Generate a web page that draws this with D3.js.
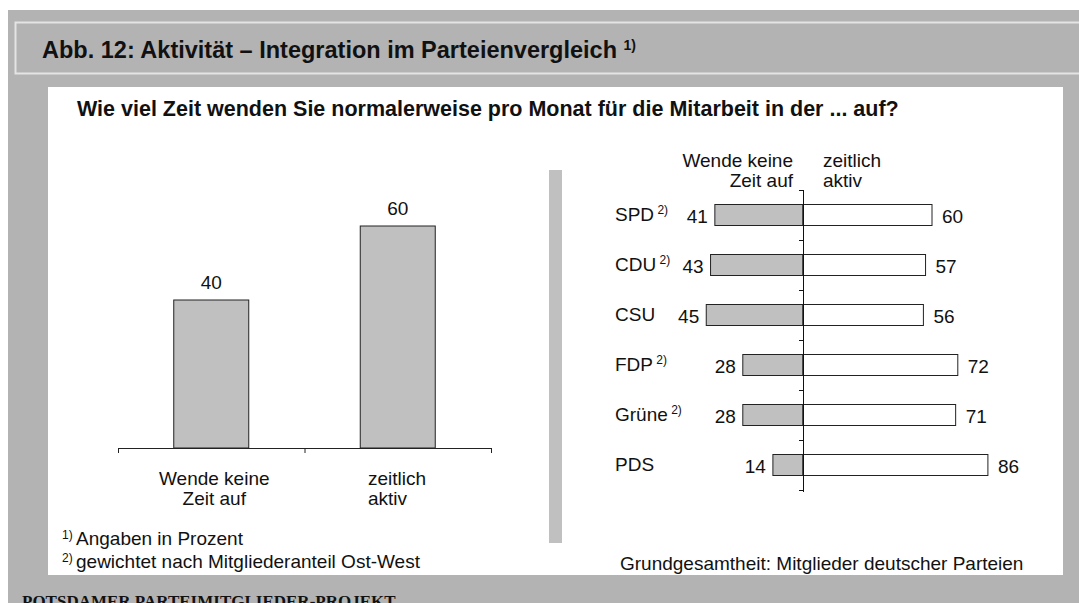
<!DOCTYPE html>
<html>
<head>
<meta charset="utf-8">
<script src="https://cdn.jsdelivr.net/npm/d3@7"></script>
<style>
  body { margin: 0; background: #fff; }
  svg { display: block; font-family: "Liberation Sans", Arial, sans-serif; }
</style>
</head>
<body>
<div id="chart"></div>
<script>
// overall question: share of members (percent)
var overallCats = ["keine", "aktiv"];
var overallLines = [["Wende keine", "Zeit auf"], ["zeitlich", "aktiv"]];
var overallValues = [40, 60];

// party comparison
var parties = ["SPD", "CDU", "CSU", "FDP", "Grüne", "PDS"];
var partyNote = ["2)", "2)", "", "2)", "2)", ""];
var keineZeit = [41, 43, 45, 28, 28, 14];
var zeitAktiv = [60, 57, 56, 72, 71, 86];

var W = 1079, H = 603;
var svg = d3.select("#chart").append("svg")
	.attr("width", W)
	.attr("height", H)

// frame
svg.append("rect").attr("x", 8).attr("y", 10).attr("width", W - 8).attr("height", H - 10).attr("fill", "#b3b3b3")
svg.append("rect").attr("x", 15.5).attr("y", 22.5).attr("width", W + 20).attr("height", 51)
	.attr("fill", "#b3b3b3").attr("stroke", "#e4e4e4").attr("stroke-width", 2)
svg.append("rect").attr("x", 48).attr("y", 87).attr("width", 1015).attr("height", 488).attr("fill", "#fff")
svg.append("rect").attr("x", 549).attr("y", 170).attr("width", 13).attr("height", 373).attr("fill", "#c0c0c0")

var title = svg.append("text")
	.attr("x", 42).attr("y", 58)
	.attr("font-size", 23.5).attr("font-weight", "bold").attr("fill", "#111")
title.append("tspan").text("Abb. 12: Aktivität – Integration im Parteienvergleich ")
title.append("tspan").attr("font-size", 14).attr("dy", -8).text("1)")

svg.append("text")
	.attr("x", 77).attr("y", 116)
	.attr("font-size", 21.5).attr("font-weight", "bold").attr("fill", "#111")
	.text("Wie viel Zeit wenden Sie normalerweise pro Monat für die Mitarbeit in der ... auf?")

// ---- left chart ----
var x1 = d3.scaleBand().domain(overallCats).range([118, 491]).padding(0)
var y1 = d3.scaleLinear().domain([0, 80]).range([448, 152])
var bw1 = 75

var left = svg.append("g")

left.selectAll("rect.bar")
	.data(overallValues)
	.enter()
		.append("rect")
		.attr("class", "bar")
		.attr("x", function(d, i) { return x1(overallCats[i]) + x1.bandwidth() / 2 - bw1 / 2; })
		.attr("y", function(d) { return y1(d); })
		.attr("width", bw1)
		.attr("height", function(d) { return y1(0) - y1(d); })
		.attr("fill", "#c0c0c0")
		.attr("stroke", "#222")
		.attr("stroke-width", 1)

left.selectAll("text.val")
	.data(overallValues)
	.enter()
		.append("text")
		.attr("class", "val")
		.attr("x", function(d, i) { return x1(overallCats[i]) + x1.bandwidth() / 2; })
		.attr("y", function(d) { return y1(d) - 11; })
		.attr("text-anchor", "middle")
		.attr("font-size", 19)
		.attr("fill", "#111")
		.text(function(d) { return d; })

// category axis with ticks on band edges
var edges = overallCats.map(function(c) { return x1(c); }).concat([x1.range()[1]])
left.append("line")
	.attr("x1", x1.range()[0]).attr("x2", x1.range()[1])
	.attr("y1", y1(0) + 0.5).attr("y2", y1(0) + 0.5)
	.attr("stroke", "#222")
left.selectAll("line.tick")
	.data(edges)
	.enter()
		.append("line")
		.attr("class", "tick")
		.attr("x1", function(d) { return d + 0.5; })
		.attr("x2", function(d) { return d + 0.5; })
		.attr("y1", y1(0)).attr("y2", y1(0) + 5)
		.attr("stroke", "#222")

left.append("text")
	.attr("x", x1(overallCats[0]) + x1.bandwidth() / 2 + 3)
	.attr("y", 485)
	.attr("text-anchor", "middle")
	.attr("font-size", 19).attr("fill", "#111")
	.selectAll("tspan")
	.data(overallLines[0])
	.enter()
		.append("tspan")
		.attr("x", x1(overallCats[0]) + x1.bandwidth() / 2 + 3)
		.attr("dy", function(d, i) { return i ? 20 : 0; })
		.text(function(d) { return d; })

left.append("text")
	.attr("x", 368)
	.attr("y", 485)
	.attr("font-size", 19).attr("fill", "#111")
	.selectAll("tspan")
	.data(overallLines[1])
	.enter()
		.append("tspan")
		.attr("x", 368)
		.attr("dy", function(d, i) { return i ? 20 : 0; })
		.text(function(d) { return d; })

// footnotes
var fn = [["1)", "Angaben in Prozent"], ["2)", "gewichtet nach Mitgliederanteil Ost-West"]]
fn.forEach(function(f, i) {
	var t = svg.append("text").attr("x", 62).attr("y", 545 + i * 23).attr("font-size", 19).attr("fill", "#111")
	t.append("tspan").attr("font-size", 12).attr("dy", -6).text(f[0] + " ")
	t.append("tspan").attr("dy", 6).text(f[1])
})

// ---- right chart ----
var y2 = d3.scaleBand().domain(parties).range([190, 490]).paddingInner(0.58).paddingOuter(0.29)
var x2 = d3.scaleLinear().domain([-100, 100]).range([588, 1018])

var right = svg.append("g")

right.selectAll("rect.keine")
	.data(keineZeit)
	.enter()
		.append("rect")
		.attr("class", "keine")
		.attr("x", function(d) { return x2(-d); })
		.attr("y", function(d, i) { return y2(parties[i]); })
		.attr("width", function(d) { return x2(0) - x2(-d); })
		.attr("height", y2.bandwidth())
		.attr("fill", "#c0c0c0")
		.attr("stroke", "#222")

right.selectAll("rect.aktiv")
	.data(zeitAktiv)
	.enter()
		.append("rect")
		.attr("class", "aktiv")
		.attr("x", x2(0))
		.attr("y", function(d, i) { return y2(parties[i]); })
		.attr("width", function(d) { return x2(d) - x2(0); })
		.attr("height", y2.bandwidth())
		.attr("fill", "#fff")
		.attr("stroke", "#222")

// center axis with ticks between rows
var rowEdges = parties.map(function(p) { return y2(p) - y2.step() * y2.paddingInner() / 2; })
	.concat([y2.range()[1]])
right.append("line")
	.attr("x1", x2(0) + 0.5).attr("x2", x2(0) + 0.5)
	.attr("y1", y2.range()[0]).attr("y2", y2.range()[1] + 2)
	.attr("stroke", "#111")
right.selectAll("line.tick")
	.data(rowEdges)
	.enter()
		.append("line")
		.attr("class", "tick")
		.attr("x1", x2(0) - 4).attr("x2", x2(0))
		.attr("y1", function(d) { return Math.round(d) + 0.5; })
		.attr("y2", function(d) { return Math.round(d) + 0.5; })
		.attr("stroke", "#111")

right.selectAll("text.lval")
	.data(keineZeit)
	.enter()
		.append("text")
		.attr("class", "lval")
		.attr("x", function(d) { return x2(-d) - 7; })
		.attr("y", function(d, i) { return y2(parties[i]) + y2.bandwidth() / 2 + 8; })
		.attr("text-anchor", "end")
		.attr("font-size", 19).attr("fill", "#111")
		.text(function(d) { return d; })

right.selectAll("text.rval")
	.data(zeitAktiv)
	.enter()
		.append("text")
		.attr("class", "rval")
		.attr("x", function(d) { return x2(d) + 10; })
		.attr("y", function(d, i) { return y2(parties[i]) + y2.bandwidth() / 2 + 8; })
		.attr("font-size", 19).attr("fill", "#111")
		.text(function(d) { return d; })

var plab = right.selectAll("text.party")
	.data(parties)
	.enter()
		.append("text")
		.attr("class", "party")
		.attr("x", 615)
		.attr("y", function(d) { return y2(d) + y2.bandwidth() / 2 + 6; })
		.attr("font-size", 19).attr("fill", "#111")
plab.append("tspan").text(function(d) { return d; })
plab.append("tspan").attr("font-size", 12).attr("dy", -7)
	.text(function(d, i) { return partyNote[i] ? " " + partyNote[i] : ""; })

// column headers
var hdr = [["Wende keine", "Zeit auf"], ["zeitlich", "aktiv"]]
hdr.forEach(function(lines, k) {
	right.append("text")
		.attr("text-anchor", k ? "start" : "end")
		.attr("font-size", 19).attr("fill", "#111")
		.selectAll("tspan")
		.data(lines)
		.enter()
			.append("tspan")
			.attr("x", k ? x2(0) + 20 : x2(0) - 10)
			.attr("y", function(d, i) { return 167 + i * 20; })
			.text(function(d) { return d; })
})

svg.append("text")
	.attr("x", 620).attr("y", 570)
	.attr("font-size", 19).attr("fill", "#111")
	.text("Grundgesamtheit: Mitglieder deutscher Parteien")

svg.append("text")
	.attr("x", 22).attr("y", 607)
	.attr("font-family", "'Liberation Serif', 'Times New Roman', serif")
	.attr("font-weight", "bold").attr("font-size", 17).attr("fill", "#111")
	.text("POTSDAMER PARTEIMITGLIEDER-PROJEKT")
</script>
</body>
</html>
